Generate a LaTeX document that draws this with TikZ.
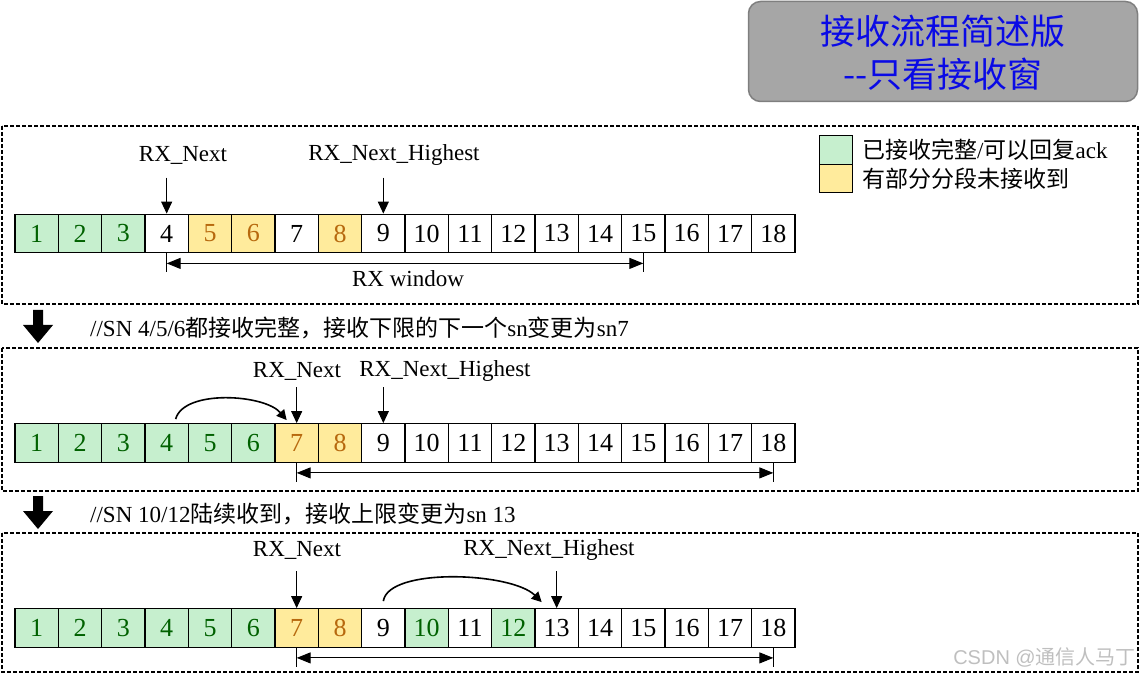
\documentclass[tikz,border=0pt]{standalone}
\usepackage{fontspec}
\setmainfont{Liberation Serif}
\newfontfamily\cjk{Noto Sans CJK SC}
\newfontfamily\wmfont{Liberation Sans}
\usetikzlibrary{arrows.meta}
\definecolor{Fg}{HTML}{C6EFCE}
\definecolor{Tg}{HTML}{006100}
\definecolor{Fy}{HTML}{FFEB9C}
\definecolor{Ty}{HTML}{B7690E}
\definecolor{Fw}{HTML}{FFFFFF}
\definecolor{Tw}{HTML}{000000}
\definecolor{titlegray}{HTML}{A6A6A6}
\definecolor{titleedge}{HTML}{7F7F7F}
\definecolor{titleblue}{HTML}{0A0AE6}
\newcommand\zh[1]{{\cjk #1}}
\newcommand\cellrow[3]{%
  \foreach \t [count=\i] in {#3} {%
    \node[cell, fill=F\t, text=T\t] (#1c\i) at ({15+(\i-0.5)*43.3333}, #2) {\i};
  }%
}
\begin{document}
\begin{tikzpicture}[x=1pt,y=-1pt,
  cell/.style={draw, line width=1.3pt, minimum width=43.333pt, minimum height=38.5pt, inner sep=0pt, font=\fontsize{26}{26}\selectfont},
  lbl/.style={font=\fontsize{23}{23}\selectfont, inner sep=0pt},
  ptr/.style={-{Triangle[length=12pt,width=11pt]}, line width=1pt},
  curv/.style={-{Triangle[length=10pt,width=10pt]}, line width=1.6pt},
  win/.style={{Triangle[length=14pt,width=11pt]}-{Triangle[length=14pt,width=11pt]}, line width=1pt},
  tick/.style={line width=0.8pt},
  frame/.style={draw, line width=1.3pt, dash pattern=on 4pt off 2pt},
  note/.style={font=\fontsize{23}{23}\selectfont, anchor=west, inner sep=0pt},
  legbox/.style={draw, line width=1pt, minimum width=33pt, minimum height=28.5pt, inner sep=0pt},
  titletext/.style={font=\cjk\fontsize{35}{35}\selectfont, text=titleblue, inner sep=0pt},
]
\useasboundingbox (0,0) rectangle (1141,676);

% title
\node[draw=titleedge, fill=titlegray, rounded corners=12pt, line width=1.5pt, minimum width=389pt, minimum height=100pt, inner sep=0pt] (title) at (943,51.5) {};
\node[titletext] (t1) at (943,31) {接收流程简述版};
\node[titletext] (t2) at (943,74) {-\kern0pt-只看接收窗};

% frames
\draw[frame] (2,126) rectangle (1138,304);
\draw[frame] (2,348) rectangle (1138,491);
\draw[frame] (2,533) rectangle (1138,672);

% legend
\node[legbox, fill=Fg] (lg) at (836,150) {};
\node[legbox, fill=Fy] (ly) at (836,178.5) {};
\node[note] (lgt) at (862,150) {\zh{已接收完整}/\zh{可以回复}ack};
\node[note] (lyt) at (862,179) {\zh{有部分分段未接收到}};

% row 1
\cellrow{r1}{233.5}{g,g,g,w,y,y,w,y,w,w,w,w,w,w,w,w,w,w}
\node[lbl] (n1) at (183,155) {RX\_Next};
\node[lbl] (h1) at (394,155) {RX\_Next\_Highest};
\draw[ptr] ([yshift=36pt]r1c4.north) -- (r1c4.north);
\draw[ptr] ([yshift=36pt]r1c9.north) -- (r1c9.north);
\draw[tick] (r1c4.south) -- ([yshift=-19pt]r1c4.south);
\draw[tick] (r1c15.south) -- ([yshift=-19pt]r1c15.south);
\draw[win] ([yshift=-10pt]r1c4.south) -- ([yshift=-10pt]r1c15.south);
\node[lbl] (w1) at (408,279) {RX window};

% transition 1
\fill (33,310) -- (43,310) -- (43,325) -- (53,325) -- (38,343) -- (23,325) -- (33,325) -- cycle;
\node[note] (c1) at (90,328) {//SN 4/5/6\zh{都接收完整，接收下限的下一个}sn\zh{变更为}sn7};

% row 2
\cellrow{r2}{443}{g,g,g,g,g,g,y,y,w,w,w,w,w,w,w,w,w,w}
\node[lbl] (n2) at (297,371) {RX\_Next};
\node[lbl] (h2) at (445,371) {RX\_Next\_Highest};
\draw[ptr] ([yshift=36pt]r2c7.north) -- (r2c7.north);
\draw[ptr] ([yshift=36pt]r2c9.north) -- (r2c9.north);
\draw[curv] ([xshift=9pt,yshift=4pt]r2c4.north) .. controls +(8,-30) and +(-22,-26) .. ([xshift=-10pt,yshift=3pt]r2c7.north);
\draw[tick] (r2c7.south) -- ([yshift=-19pt]r2c7.south);
\draw[tick] (r2c18.south) -- ([yshift=-19pt]r2c18.south);
\draw[win] ([yshift=-10pt]r2c7.south) -- ([yshift=-10pt]r2c18.south);

% transition 2
\fill (33,496) -- (43,496) -- (43,511) -- (53,511) -- (38,529) -- (23,511) -- (33,511) -- cycle;
\node[note] (c2) at (90,514) {//SN 10/12\zh{陆续收到，接收上限变更为}sn 13};

% row 3
\cellrow{r3}{628}{g,g,g,g,g,g,y,y,w,g,w,g,w,w,w,w,w,w}
\node[lbl] (n3) at (297,550) {RX\_Next};
\node[lbl] (h3) at (549,550) {RX\_Next\_Highest};
\draw[ptr] ([yshift=37pt]r3c7.north) -- (r3c7.north);
\draw[ptr] ([yshift=37pt]r3c13.north) -- (r3c13.north);
\draw[curv] ([yshift=7pt]r3c9.north) .. controls +(5,-34) and +(-30,-30) .. ([xshift=-15pt,yshift=6pt]r3c13.north);
\draw[tick] (r3c7.south) -- ([yshift=-19pt]r3c7.south);
\draw[tick] (r3c18.south) -- ([yshift=-19pt]r3c18.south);
\draw[win] ([yshift=-10pt]r3c7.south) -- ([yshift=-10pt]r3c18.south);

% watermark
\node[font=\wmfont\fontsize{20}{20}\selectfont, text=black!25, anchor=east, inner sep=0pt] (wm) at (1136,657) {CSDN @\zh{通信人马丁}};
\end{tikzpicture}
\end{document}
